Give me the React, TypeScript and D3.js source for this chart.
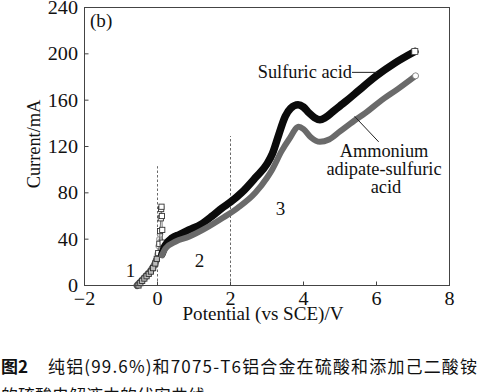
import React from 'react';
import * as d3 from 'd3';

// axis ticks
const xTicks = [-2, 0, 2, 4, 6, 8];
const yTicks = [0, 40, 80, 120, 160, 200, 240];

// main polarisation curves (potential V vs SCE, current mA)
const sulfuricV = [0.12, 0.22, 0.4, 0.6, 0.86, 1.2, 1.5, 1.77, 2.0, 2.3, 2.68, 3.0, 3.15, 3.32, 3.5, 3.65, 3.85, 4.0, 4.15, 4.3, 4.45, 4.6, 4.8, 5.0, 5.2, 5.5, 5.8, 6.0, 6.5, 7.05];
const sulfuricI = [27, 35, 41, 44, 48, 53, 60, 67, 72, 80, 93, 105, 114, 130, 146, 153, 156, 154, 149, 145, 143, 145, 150, 155, 160, 168, 176, 181, 192, 202];
const ammoniumV = [0.12, 0.22, 0.5, 0.86, 1.3, 1.77, 2.2, 2.68, 3.0, 3.14, 3.4, 3.6, 3.87, 4.0, 4.2, 4.45, 4.7, 5.0, 5.38, 5.7, 6.1, 6.6, 7.07];
const ammoniumI = [26, 32, 38, 42, 49, 58, 67, 80, 93, 100, 116, 126, 137, 135, 128, 124, 126, 133, 142, 149, 159, 170, 181];

// initial transient near 0 V
const sulfuricSpikeV = [-0.52, -0.47, -0.42, -0.36, -0.3, -0.24, -0.18, -0.12, -0.06, -0.02, 0.02, 0.05, 0.07, 0.09, 0.1, 0.11, 0.12, 0.13, 0.14, 0.15];
const sulfuricSpikeI = [0, 2, 4, 6, 8, 10, 12, 15, 19, 23, 28, 36, 47, 58, 66, 68, 60, 48, 37, 30];
const ammoniumSpikeV = [-0.56, -0.5, -0.44, -0.38, -0.32, -0.26, -0.2, -0.14, -0.08, -0.03, 0.0, 0.03, 0.05, 0.07, 0.09, 0.11, 0.12];
const ammoniumSpikeI = [0, 2, 4, 6, 8, 10, 12, 15, 18, 22, 27, 34, 40, 44, 38, 31, 27];

const seriesNames = ['Sulfuric acid', 'Ammonium', 'adipate-sulfuric', 'acid'];
const regionNames = ['1', '2', '3'];
const captionLines = ['纯铝(99.6%)和7075-T6铝合金在硫酸和添加己二酸铵', '的硫酸电解液中的伏安曲线'];

const W = 479, H = 392;
const serif = '"Liberation Serif", "Times New Roman", serif';
const cjk = '"Noto Sans CJK SC", sans-serif';

// serif label, slightly widened like the scanned figure
function Label(props: { x: number; y: number; anchor?: string; size?: number; sx?: number; rotate?: number; children: React.ReactNode }) {
  const { x, y, anchor = 'start', size = 18, sx = 1.06, rotate = 0 } = props;
  return (
    <text transform={`translate(${x},${y}) rotate(${rotate}) scale(${sx},1)`} textAnchor={anchor}
          fontFamily={serif} fontSize={size} fill="#111">{props.children}</text>
  );
}

export default function App() {
  const x = d3.scaleLinear().domain([-2, 8]).range([84.5, 449.5]);
  const y = d3.scaleLinear().domain([0, 240]).range([285.5, 7.5]);

  const pts = (vs: number[], is: number[]) => vs.map((v, i) => [v, is[i]] as [number, number]);
  const smooth = d3.line<[number, number]>().x(d => x(d[0])).y(d => y(d[1])).curve(d3.curveMonotoneX);
  const straight = d3.line<[number, number]>().x(d => x(d[0])).y(d => y(d[1]));

  const sMain = pts(sulfuricV, sulfuricI);
  const aMain = pts(ammoniumV, ammoniumI);
  const sSpike = pts(sulfuricSpikeV, sulfuricSpikeI);
  const aSpike = pts(ammoniumSpikeV, ammoniumSpikeI);
  const aSpikeLow = aSpike.filter(d => d[1] <= 24);
  const sEnd = sMain[sMain.length - 1];
  const aEnd = aMain[aMain.length - 1];

  const fmt = d3.format('d');

  return (
    <svg width={W} height={H} style={{ position: 'absolute', left: 0, top: 0, background: '#fff' }}>
      <rect x={0} y={0} width={W} height={H} fill="#fff" />

      {/* dashed region separators */}
      <line x1={x(0)} x2={x(0)} y1={y(0)} y2={y(103)} stroke="#444" strokeWidth={0.8} strokeDasharray="2.5,2" />
      <line x1={x(2)} x2={x(2)} y1={y(0)} y2={y(129)} stroke="#444" strokeWidth={0.8} strokeDasharray="2.5,2" />

      {/* transient spike */}
      <path d={straight(aSpikeLow) || ''} fill="none" stroke="#6e6e6e" strokeWidth={7} strokeLinecap="round" />
      <path d={straight(aSpike) || ''} fill="none" stroke="#bbb" strokeWidth={1.5} />
      {aSpike.map((d, i) => (
        <circle key={'ac' + i} cx={x(d[0])} cy={y(d[1])} r={2.8}
                fill={d[1] <= 24 ? '#999' : '#e6e6e6'} stroke={d[1] <= 24 ? '#444' : '#888'} strokeWidth={0.8} />
      ))}
      <path d={straight(sSpike) || ''} fill="none" stroke="#555" strokeWidth={0.8} />
      {sSpike.map((d, i) => (
        <rect key={'sq' + i} x={x(d[0]) - 2.6} y={y(d[1]) - 2.6} width={5.2} height={5.2}
              fill={d[1] <= 24 ? '#bbb' : '#fff'} stroke="#333" strokeWidth={0.9} />
      ))}

      {/* main curves */}
      <path d={smooth(sMain) || ''} fill="none" stroke="#0b0b0b" strokeWidth={7.5} strokeLinecap="round" />
      <path d={smooth(aMain) || ''} fill="none" stroke="#6a6a6a" strokeWidth={6} strokeLinecap="round" />
      <rect x={x(sEnd[0]) - 3} y={y(sEnd[1]) - 3} width={6} height={6} fill="#fff" stroke="#444" strokeWidth={0.8} />
      <circle cx={x(aEnd[0])} cy={y(aEnd[1])} r={3} fill="#fff" stroke="#777" strokeWidth={0.8} />

      {/* frame */}
      <rect x={84.5} y={7.5} width={365} height={278} fill="none" stroke="#444" strokeWidth={1} />
      {xTicks.map(t => (
        <g key={'xt' + t}>
          <line x1={x(t)} x2={x(t)} y1={y(0)} y2={y(0) - 4} stroke="#444" />
          <Label x={x(t)} y={305} anchor="middle" sx={1.12}>{t < 0 ? '\u2212' + fmt(-t) : fmt(t)}</Label>
        </g>
      ))}
      {yTicks.map(t => (
        <g key={'yt' + t}>
          <line x1={x(-2)} x2={x(-2) + 4} y1={y(t)} y2={y(t)} stroke="#444" />
          <Label x={78} y={y(t) + 6.5} anchor="end" sx={1.12}>{fmt(t)}</Label>
        </g>
      ))}

      <Label x={90} y={27}>(b)</Label>
      <Label x={263} y={320} anchor="middle">Potential (vs SCE)/V</Label>
      <Label x={40} y={144} anchor="middle" rotate={-90} sx={1.02}>Current/mA</Label>

      {/* region numbers */}
      <Label x={x(-0.74)} y={y(7)} anchor="middle">{regionNames[0]}</Label>
      <Label x={x(1.15)} y={y(16)} anchor="middle">{regionNames[1]}</Label>
      <Label x={x(3.37)} y={y(61)} anchor="middle">{regionNames[2]}</Label>

      {/* series labels */}
      <Label x={352} y={78} anchor="end" sx={1.02}>{seriesNames[0]}</Label>
      <line x1={352} x2={x(6.02)} y1={y(184)} y2={y(184)} stroke="#222" strokeWidth={1} />
      <line x1={x(5.4)} y1={y(146)} x2={x(6.06)} y2={y(124)} stroke="#222" strokeWidth={1} />
      <Label x={384} y={157} anchor="middle" sx={1.02}>{seriesNames[1]}</Label>
      <Label x={384} y={175} anchor="middle" sx={1.02}>{seriesNames[2]}</Label>
      <Label x={386} y={193} anchor="middle" sx={1.02}>{seriesNames[3]}</Label>

      {/* caption */}
      <text x={1} y={373} fontFamily={cjk} fontSize={17} fontWeight="bold" fill="#111">图2</text>
      <text x={48} y={373} fontFamily={cjk} fontSize={17} fill="#111" textLength={429} lengthAdjust="spacing">{captionLines[0]}</text>
      <text x={1} y={402} fontFamily={cjk} fontSize={17} fill="#111">{captionLines[1]}</text>
    </svg>
  );
}
